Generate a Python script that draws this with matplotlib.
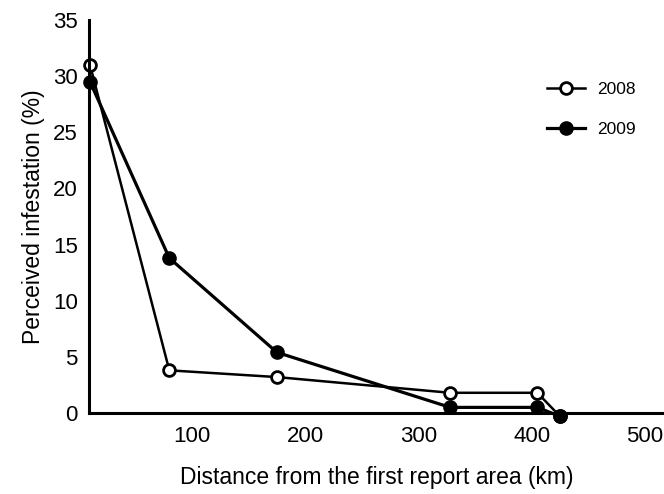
import matplotlib
matplotlib.use("Agg")
import matplotlib.pyplot as plt

plt.rcParams["font.family"] = ["Liberation Sans", "DejaVu Sans"]

# distance (km) and perceived infestation (%)
dist_2008 = [10, 80, 175, 328, 405, 425]
inf_2008 = [31.0, 3.8, 3.2, 1.8, 1.8, -0.3]
dist_2009 = [10, 80, 175, 328, 405, 425]
inf_2009 = [29.5, 13.8, 5.4, 0.5, 0.5, -0.3]
xticks = [100, 200, 300, 400, 500]
yticks = [0, 5, 10, 15, 20, 25, 30, 35]

fig = plt.figure(figsize=(6.64, 4.94), dpi=100)
ax = fig.add_axes([89 / 664, 81 / 494, 1 - 89 / 664, 393 / 494])

ax.plot(dist_2008, inf_2008, color="black", linewidth=1.8, marker="o",
        markersize=8.5, markerfacecolor="white", markeredgecolor="black",
        markeredgewidth=2, label="2008", clip_on=False, zorder=2)
ax.plot(dist_2009, inf_2009, color="black", linewidth=2.3, marker="o",
        markersize=9.5, markerfacecolor="black", markeredgecolor="black",
        label="2009", clip_on=False, zorder=3)

ax.set_xlim(9.1, 516.8)
ax.set_ylim(0, 35)
ax.set_xticks(xticks)
ax.set_yticks(yticks)
ax.tick_params(length=0, labelsize=16)
ax.tick_params(axis="x", pad=9)
ax.tick_params(axis="y", pad=8)

for s in ["top", "right"]:
    ax.spines[s].set_visible(False)
for s in ["left", "bottom"]:
    ax.spines[s].set_linewidth(2.2)

ax.set_xlabel("Distance from the first report area (km)", fontsize=16.5, labelpad=14)
ax.set_ylabel("Perceived infestation (%)", fontsize=16.5, labelpad=6)

ax.legend(loc="upper left", bbox_to_anchor=(538 / 664, 1 - 73 / 494),
          bbox_transform=fig.transFigure, frameon=False, fontsize=12.5,
          borderpad=0, handlelength=2.2, handletextpad=0.7, labelspacing=1.45)

fig.savefig("out.png", dpi=100)
